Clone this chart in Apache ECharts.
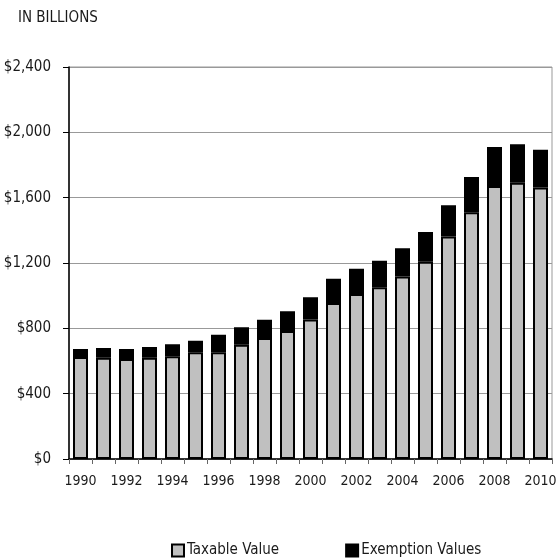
<!DOCTYPE html>
<html>
<head>
<meta charset="utf-8">
<script src="https://cdn.jsdelivr.net/npm/echarts@6/dist/echarts.min.js"></script>
<style>
html,body{margin:0;padding:0;background:#fff;}
#chart{width:556px;height:560px;}
</style>
</head>
<body>
<div id="chart"></div>
<script>
var years = ['1990','1991','1992','1993','1994','1995','1996','1997','1998','1999','2000','2001','2002','2003','2004','2005','2006','2007','2008','2009','2010'];
var taxableValue = [624, 620, 612, 620, 629, 653, 653, 700, 741, 784, 854, 955, 1010, 1051, 1118, 1208, 1363, 1510, 1671, 1692, 1663];
var exemptionValues = [49, 60, 61, 66, 73, 71, 108, 106, 112, 120, 137, 149, 155, 163, 172, 182, 190, 216, 239, 235, 231];
var yTicks = { min: 0, max: 2400, interval: 400 };

var FONT = '"DejaVu Sans Condensed", "Liberation Sans Narrow", sans-serif';
var chart = echarts.init(document.getElementById('chart'), null, { renderer: 'canvas' });
chart.setOption({
  animation: false,
  backgroundColor: '#fff',
  textStyle: { fontFamily: FONT },
  graphic: [{
    type: 'text', left: 18, top: 11,
    style: { text: 'IN BILLIONS', font: '15px ' + FONT, fill: '#1a1a1a' }
  }],
  legend: {
    left: 171, top: 543, padding: 0,
    itemWidth: 12, itemHeight: 12, itemGap: 66,
    icon: 'rect',
    textStyle: { fontFamily: FONT, fontSize: 15, color: '#1a1a1a', padding: [0, 0, 0, -2] },
    data: ['Taxable Value', 'Exemption Values']
  },
  grid: { left: 69, right: 4, top: 67, bottom: 101, show: true, borderColor: '#999', borderWidth: 1, outerBoundsMode: 'none', containLabel: false },
  xAxis: {
    type: 'category',
    data: years,
    boundaryGap: true,
    axisLine: { lineStyle: { color: '#000', width: 1.5 } },
    axisTick: { show: true, inside: false, length: 5, alignWithLabel: false, interval: 0, lineStyle: { color: '#666' } },
    axisLabel: { interval: 1, margin: 15, fontFamily: FONT, fontSize: 14, color: '#1a1a1a' },
    splitLine: { show: false }
  },
  yAxis: {
    type: 'value',
    min: yTicks.min, max: yTicks.max, interval: yTicks.interval,
    axisLine: { show: true, lineStyle: { color: '#000', width: 1.5 } },
    axisTick: { show: true, inside: false, length: 6, lineStyle: { color: '#000' } },
    axisLabel: {
      margin: 18, fontFamily: FONT, fontSize: 15, color: '#1a1a1a',
      formatter: function (v) { return '$' + v.toLocaleString('en-US'); }
    },
    splitLine: { show: true, lineStyle: { color: '#999', width: 1 } }
  },
  series: [
    {
      name: 'Taxable Value', type: 'bar', stack: 'total', data: taxableValue,
      barWidth: 15,
      itemStyle: { color: '#c0c0c0', borderColor: '#000', borderWidth: 2 }
    },
    {
      name: 'Exemption Values', type: 'bar', stack: 'total', data: exemptionValues,
      barWidth: 15,
      itemStyle: { color: '#000', borderColor: '#000', borderWidth: 2 }
    }
  ]
});
</script>
</body>
</html>
